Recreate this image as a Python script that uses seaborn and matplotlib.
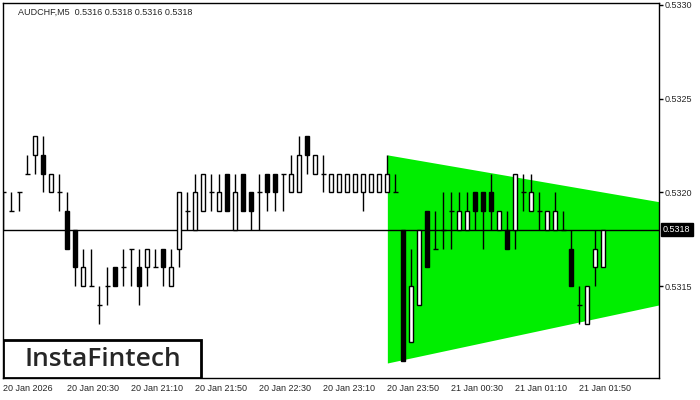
import seaborn as sns
from matplotlib import pyplot as plt
from matplotlib.patches import Rectangle
import numpy as np

# AUDCHF M5 candles, one row per bar
opens = [0.5320, 0.5319, 0.5320, 0.5321, 0.5322, 0.5322, 0.5320, 0.5320, 0.5319, 0.5318,
         0.5315, 0.5315, 0.5314, 0.5315, 0.5316, 0.5316, 0.5317, 0.5316, 0.5316, 0.5316,
         0.5317, 0.5315, 0.5317, 0.5319, 0.5318, 0.5319, 0.5320, 0.5319, 0.5321, 0.5318,
         0.5321, 0.5320, 0.5320, 0.5321, 0.5321, 0.5321, 0.5320, 0.5320, 0.5323, 0.5321,
         0.5321, 0.5320, 0.5320, 0.5320, 0.5320, 0.5320, 0.5320, 0.5320, 0.5320, 0.5320,
         0.5318, 0.5312, 0.5314, 0.5319, 0.5317, 0.5318, 0.5319, 0.5318, 0.5318, 0.5320,
         0.5320, 0.5320, 0.5318, 0.5318, 0.5318, 0.5320, 0.5319, 0.5319, 0.5318, 0.5318,
         0.5318, 0.5317, 0.5314, 0.5313, 0.5316, 0.5316]
highs = [0.5320, 0.5320, 0.5320, 0.5322, 0.5323, 0.5323, 0.5321, 0.5321, 0.5320, 0.5318,
         0.5317, 0.5317, 0.5315, 0.5316, 0.5316, 0.5317, 0.5317, 0.5317, 0.5317, 0.5317,
         0.5317, 0.5317, 0.5320, 0.5320, 0.5321, 0.5321, 0.5321, 0.5321, 0.5321, 0.5321,
         0.5321, 0.5320, 0.5321, 0.5321, 0.5321, 0.5321, 0.5322, 0.5323, 0.5323, 0.5322,
         0.5322, 0.5321, 0.5321, 0.5321, 0.5321, 0.5321, 0.5321, 0.5321, 0.5322, 0.5321,
         0.5318, 0.5317, 0.5318, 0.5319, 0.5319, 0.5320, 0.5320, 0.5320, 0.5320, 0.5320,
         0.5320, 0.5321, 0.5319, 0.5319, 0.5321, 0.5321, 0.5321, 0.5320, 0.5319, 0.5320,
         0.5319, 0.5318, 0.5315, 0.5315, 0.5318, 0.5318]
lows = [0.5318, 0.5319, 0.5319, 0.5321, 0.5321, 0.5320, 0.5320, 0.5319, 0.5317, 0.5315,
        0.5315, 0.5315, 0.5313, 0.5314, 0.5315, 0.5315, 0.5315, 0.5314, 0.5315, 0.5316,
        0.5315, 0.5315, 0.5316, 0.5318, 0.5318, 0.5319, 0.5319, 0.5319, 0.5319, 0.5318,
        0.5319, 0.5318, 0.5318, 0.5319, 0.5319, 0.5319, 0.5320, 0.5320, 0.5321, 0.5321,
        0.5320, 0.5320, 0.5320, 0.5320, 0.5320, 0.5319, 0.5320, 0.5320, 0.5320, 0.5320,
        0.5311, 0.5312, 0.5314, 0.5316, 0.5317, 0.5317, 0.5317, 0.5318, 0.5318, 0.5318,
        0.5317, 0.5318, 0.5318, 0.5317, 0.5317, 0.5319, 0.5319, 0.5318, 0.5318, 0.5318,
        0.5318, 0.5315, 0.5313, 0.5313, 0.5315, 0.5316]
closes = [0.5320, 0.5319, 0.5320, 0.5321, 0.5323, 0.5321, 0.5321, 0.5320, 0.5317, 0.5316,
          0.5316, 0.5315, 0.5314, 0.5315, 0.5315, 0.5316, 0.5317, 0.5315, 0.5317, 0.5316,
          0.5316, 0.5316, 0.5320, 0.5319, 0.5320, 0.5321, 0.5320, 0.5320, 0.5319, 0.5320,
          0.5319, 0.5319, 0.5320, 0.5320, 0.5320, 0.5321, 0.5321, 0.5322, 0.5322, 0.5322,
          0.5321, 0.5321, 0.5321, 0.5321, 0.5321, 0.5321, 0.5321, 0.5321, 0.5321, 0.5320,
          0.5311, 0.5315, 0.5318, 0.5316, 0.5317, 0.5318, 0.5319, 0.5319, 0.5319, 0.5319,
          0.5319, 0.5319, 0.5319, 0.5317, 0.5321, 0.5320, 0.5320, 0.5319, 0.5319, 0.5319,
          0.5318, 0.5315, 0.5314, 0.5315, 0.5317, 0.5318]

time_labels = ['20 Jan 2026', '20 Jan 20:30', '20 Jan 21:10', '20 Jan 21:50', '20 Jan 22:30',
               '20 Jan 23:10', '20 Jan 23:50', '21 Jan 00:30', '21 Jan 01:10', '21 Jan 01:50']
price_ticks = [0.5315, 0.5320, 0.5325, 0.5330]
last_price = 0.5318

# symmetrical triangle (bar index, upper edge, lower edge)
tri_x = [48, 82]
tri_top = [0.53220, 0.53195]
tri_bottom = [0.53109, 0.53140]


def plot_chart():
    sns.set_style('white')
    plt.rcParams['font.family'] = ['Liberation Sans', 'DejaVu Sans']

    fig = plt.figure(figsize=(7, 4), dpi=100)
    ax = fig.add_axes([3 / 700, 22 / 400, 656 / 700, 375 / 400])

    x = np.arange(len(opens))
    o = np.array(opens)
    c = np.array(closes)

    ax.fill_between(tri_x, tri_bottom, tri_top, color='#00ee00', linewidth=0, zorder=1)
    ax.axhline(last_price, color='black', linewidth=1, zorder=2)

    ax.vlines(x, lows, highs, color='black', linewidth=1, zorder=3)
    up = c > o
    down = c < o
    flat = c == o
    ax.bar(x[up], (c - o)[up], bottom=o[up], width=0.5, color='white',
           edgecolor='black', linewidth=1, zorder=4)
    ax.bar(x[down], (o - c)[down], bottom=c[down], width=0.5, color='black',
           edgecolor='black', linewidth=1, zorder=4)
    ax.hlines(o[flat], x[flat] - 0.3, x[flat] + 0.3, color='black', linewidth=1, zorder=4)

    ax.set_xlim(-0.05, 81.96)
    ax.set_ylim(0.53101, 0.53301)

    ax.set_xticks(np.arange(len(time_labels)) * 8)
    ax.set_xticklabels(time_labels, ha='left', fontsize=6.5)
    ax.yaxis.tick_right()
    ax.set_yticks(price_ticks)
    ax.set_yticklabels([f'{p:.4f}' for p in price_ticks], fontsize=6.5)
    ax.tick_params(axis='both', direction='out', length=3, width=1, color='black', pad=1)
    for s in ax.spines.values():
        s.set_color('black')
        s.set_linewidth(1)

    ax.text(1.006, last_price, f'{last_price:.4f}', transform=ax.get_yaxis_transform(),
            fontsize=6.5, color='white', va='center', ha='left',
            bbox=dict(facecolor='black', edgecolor='black', pad=1.5))

    ax.text(0.023, 0.976, 'AUDCHF,M5  0.5316 0.5318 0.5316 0.5318', transform=ax.transAxes,
            fontsize=6.5, va='center', ha='left')

    ax.add_patch(Rectangle((0.0, 0.0), 0.302, 0.101, transform=ax.transAxes,
                           facecolor='white', edgecolor='black', linewidth=2, zorder=6))
    ax.text(0.152, 0.05, 'InstaFintech', transform=ax.transAxes, fontsize=19,
            family=['Open Sans', 'DejaVu Sans'], weight='semibold',
            ha='center', va='center', zorder=7)

    fig.savefig('out.png')
    # plt.show()


if __name__ == '__main__':
    plot_chart()
